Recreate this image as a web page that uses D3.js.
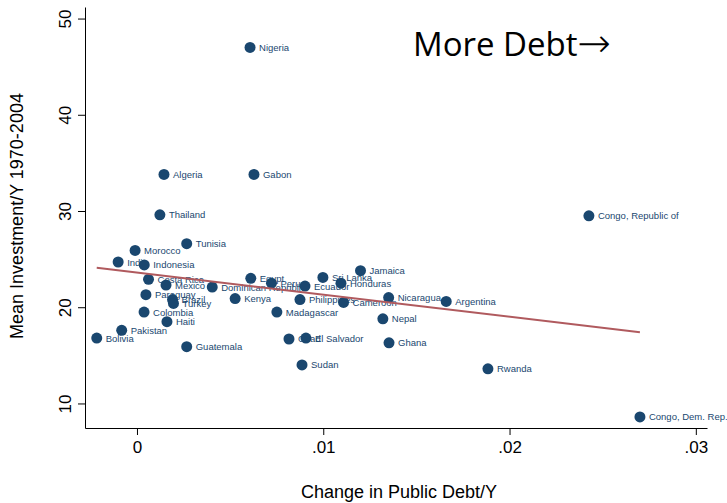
<!DOCTYPE html>
<html>
<head>
<meta charset="utf-8">
<script src="https://cdn.jsdelivr.net/npm/d3@7"></script>
<style>
  body { margin: 0; background: #fff; }
  svg { font-family: "Liberation Sans", Arial, sans-serif; }
</style>
</head>
<body>
<div id="chart"></div>
<script>
var countries = ["Nigeria", "Algeria", "Gabon", "Thailand", "Tunisia", "Morocco", "India", "Indonesia",
  "Costa Rica", "Mexico", "Dominican Republic", "Paraguay", "Brazil", "Turkey", "Kenya", "Colombia",
  "Haiti", "Pakistan", "Bolivia", "Guatemala", "Egypt", "Peru", "Ecuador", "Sri Lanka", "Honduras",
  "Jamaica", "Philippines", "Cameroon", "Madagascar", "Nicaragua", "Argentina", "Nepal", "Chad",
  "El Salvador", "Ghana", "Sudan", "Rwanda", "Congo, Republic of", "Congo, Dem. Rep."];
var debtChange = [0.00607, 0.00145, 0.00628, 0.00123, 0.00267, -0.0001, -0.00101, 0.00039,
  0.00062, 0.00156, 0.00404, 0.00048, 0.00191, 0.00196, 0.00527, 0.00038,
  0.00161, -0.00082, -0.00216, 0.00267, 0.00611, 0.00722, 0.00902, 0.00998, 0.01095,
  0.0120, 0.00875, 0.01109, 0.00751, 0.01351, 0.01660, 0.0132, 0.00816,
  0.00907, 0.01353, 0.00886, 0.01884, 0.02426, 0.0270];
var investment = [47.0, 33.8, 33.8, 29.6, 26.6, 25.9, 24.7, 24.4,
  22.9, 22.3, 22.1, 21.3, 20.8, 20.4, 20.9, 19.5,
  18.5, 17.6, 16.8, 15.9, 23.0, 22.5, 22.2, 23.1, 22.5,
  23.8, 20.8, 20.5, 19.5, 21.0, 20.6, 18.8, 16.7,
  16.8, 16.3, 14.0, 13.6, 29.5, 8.6];
var xTicks = [0, 0.01, 0.02, 0.03];
var xTickLabels = ["0", ".01", ".02", ".03"];
var yTicks = [10, 20, 30, 40, 50];

var width = 727, height = 503;
var margin = {top: 7, right: 20, bottom: 75, left: 85};

var svg = d3.select("#chart").append("svg")
  .attr("width", width)
  .attr("height", height);

var x = d3.scaleLinear()
  .domain([-0.00279, 0.0306])
  .range([margin.left, width - margin.right]);
var y = d3.scaleLinear()
  .domain([7.45, 51.2])
  .range([height - margin.bottom, margin.top]);

var data = countries.map(function(c, i) {
  return {name: c, x: debtChange[i], y: investment[i]};
});

// linear fit (OLS over the points)
var mx = d3.mean(data, function(d) { return d.x; });
var my = d3.mean(data, function(d) { return d.y; });
var sxy = d3.sum(data, function(d) { return (d.x - mx) * (d.y - my); });
var sxx = d3.sum(data, function(d) { return (d.x - mx) * (d.x - mx); });
var slope = sxy / sxx;
var intercept = my - slope * mx;
var xExt = d3.extent(data, function(d) { return d.x; });

// axes
svg.append("g")
  .attr("transform", "translate(0," + (height - margin.bottom) + ")")
  .call(d3.axisBottom(x).tickValues(xTicks)
    .tickFormat(function(d, i) { return xTickLabels[i]; })
    .tickSize(7).tickPadding(6).tickSizeOuter(0))
  .call(function(g) {
    g.select(".domain").attr("stroke", "#000");
    g.selectAll("text").attr("font-size", 17).attr("fill", "#000").attr("font-family", null);
  });

svg.append("g")
  .attr("transform", "translate(" + margin.left + ",0)")
  .call(d3.axisLeft(y).tickValues(yTicks).tickSize(7).tickSizeOuter(0))
  .call(function(g) {
    g.select(".domain").attr("stroke", "#000");
    // Stata style: rotated tick labels
    g.selectAll("text")
      .attr("font-size", 17).attr("fill", "#000").attr("font-family", null)
      .attr("text-anchor", "middle")
      .attr("transform", "rotate(-90)")
      .attr("x", 0).attr("y", -14).attr("dy", 0);
  });

// axis titles
svg.append("text")
  .attr("x", (margin.left + width - margin.right) / 2 + 3)
  .attr("y", 498)
  .attr("text-anchor", "middle")
  .attr("font-size", 18)
  .text("Change in Public Debt/Y");

svg.append("text")
  .attr("transform", "translate(23,216) rotate(-90)")
  .attr("text-anchor", "middle")
  .attr("font-size", 18)
  .text("Mean Investment/Y 1970-2004");

// points
var navy = "#1a476f";
svg.append("g").selectAll("circle")
  .data(data)
  .join("circle")
  .attr("cx", function(d) { return x(d.x); })
  .attr("cy", function(d) { return y(d.y); })
  .attr("r", 5.5)
  .attr("fill", navy);

svg.append("g").selectAll("text")
  .data(data)
  .join("text")
  .attr("x", function(d) { return x(d.x) + 9; })
  .attr("y", function(d) { return y(d.y) + 3.5; })
  .attr("font-size", 9.5)
  .attr("fill", navy)
  .text(function(d) { return d.name; });

// fitted line
svg.append("line")
  .attr("x1", x(xExt[0]))
  .attr("y1", y(intercept + slope * xExt[0]))
  .attr("x2", x(xExt[1]))
  .attr("y2", y(intercept + slope * xExt[1]))
  .attr("stroke", "#b05a5e")
  .attr("stroke-width", 2);

var note = svg.append("text")
  .attr("x", 413)
  .attr("y", 56)
  .style("font-family", "'Open Sans', sans-serif")
  .style("font-size", "33px")
  .attr("fill", "#000");
note.append("tspan").text("More Debt");
note.append("tspan")
  .style("font-family", "'DejaVu Sans', sans-serif")
  .style("font-weight", 200)
  .style("font-size", "40px")
  .attr("dy", 1)
  .text("\u2192");
</script>
</body>
</html>
